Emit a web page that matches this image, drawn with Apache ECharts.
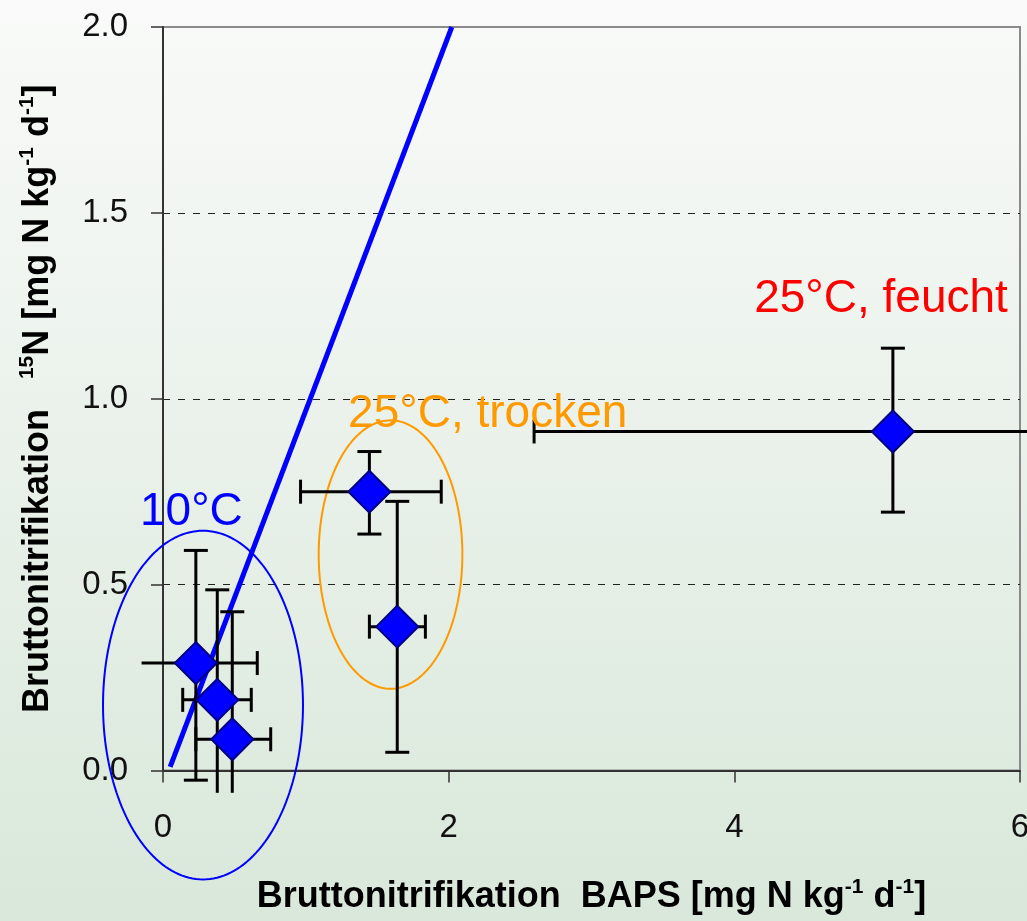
<!DOCTYPE html>
<html>
<head>
<meta charset="utf-8">
<script src="https://cdn.jsdelivr.net/npm/echarts@6/dist/echarts.min.js"></script>
<style>
html,body{margin:0;padding:0;width:1027px;height:921px;overflow:hidden;}
#chart{width:1027px;height:921px;}
</style>
</head>
<body>
<div id="chart"></div>
<script>
// ---- data ----
const pointX   = [0.23, 0.38, 0.485, 1.445, 1.64, 5.11];
const pointY   = [0.289, 0.19, 0.084, 0.75, 0.387, 0.912];
const xErrLow  = [-0.20, 0.138, 0.23, 0.963, 1.445, 2.598];
const xErrHigh = [0.66, 0.618, 0.754, 1.948, 1.837, 6.30];
const yErrLow  = [-0.026, -0.20, -0.20, 0.636, 0.049, 0.695];
const yErrHigh = [0.592, 0.486, 0.427, 0.858, 0.724, 1.136];

const lineX = [0.05, 2.022];
const lineY = [0.01, 2.0];

const groupNames = ['10°C', '25°C, trocken', '25°C, feucht'];
const groupLabelX = [-0.161, 1.296, 4.139];
const groupLabelY = [0.695, 0.958, 1.268];

const ellipseCx = [0.28, 1.593];
const ellipseCy = [0.176, 0.581];
const ellipseRx = [0.70, 0.503];
const ellipseRy = [0.469, 0.361];

const xTicks = [0, 2, 4, 6];
const yTicks = ['0.0', '0.5', '1.0', '1.5', '2.0'];

// ---- display rules ----
const X_CLIP = [-0.15, 6.05];
const Y_CLIP = [-0.06, 2.0];
const groupColors = ['#0000ff', '#ff9900', '#ff0000'];
const FONT = '"Liberation Sans", Arial, sans-serif';

const chart = echarts.init(document.getElementById('chart'), null, {renderer: 'canvas'});

const errData = pointX.map((x, i) => [x, pointY[i], xErrLow[i], xErrHigh[i], yErrLow[i], yErrHigh[i]]);
const ellData = ellipseCx.map((c, i) => [c, ellipseCy[i], ellipseRx[i], ellipseRy[i], i]);
const labelData = groupNames.map((n, i) => [groupLabelX[i], groupLabelY[i], i]);

function errorBarItem(params, api) {
  const x = api.value(0), y = api.value(1);
  const xl = api.value(2), xh = api.value(3), yl = api.value(4), yh = api.value(5);
  const style = {stroke: '#000', lineWidth: 3};
  const cap = 12;
  const ch = [];
  const ylc = Math.max(yl, Y_CLIP[0]), yhc = Math.min(yh, Y_CLIP[1]);
  const a = api.coord([x, ylc]), b = api.coord([x, yhc]);
  ch.push({type: 'line', shape: {x1: a[0], y1: a[1], x2: b[0], y2: b[1]}, style});
  if (yl >= Y_CLIP[0]) ch.push({type: 'line', shape: {x1: a[0] - cap, y1: a[1], x2: a[0] + cap, y2: a[1]}, style});
  if (yh <= Y_CLIP[1]) ch.push({type: 'line', shape: {x1: b[0] - cap, y1: b[1], x2: b[0] + cap, y2: b[1]}, style});
  const xlc = Math.max(xl, X_CLIP[0]), xhc = Math.min(xh, X_CLIP[1]);
  const c = api.coord([xlc, y]), d = api.coord([xhc, y]);
  ch.push({type: 'line', shape: {x1: c[0], y1: c[1], x2: d[0], y2: d[1]}, style});
  if (xl >= X_CLIP[0]) ch.push({type: 'line', shape: {x1: c[0], y1: c[1] - cap, x2: c[0], y2: c[1] + cap}, style});
  if (xh <= X_CLIP[1]) ch.push({type: 'line', shape: {x1: d[0], y1: d[1] - cap, x2: d[0], y2: d[1] + cap}, style});
  return {type: 'group', children: ch};
}

function ellipseItem(params, api) {
  const cx = api.value(0), cy = api.value(1), rx = api.value(2), ry = api.value(3), k = api.value(4);
  const pts = [];
  for (let i = 0; i < 180; i++) {
    const t = i / 180 * Math.PI * 2;
    pts.push(api.coord([cx + rx * Math.cos(t), cy + ry * Math.sin(t)]));
  }
  return {type: 'polygon', shape: {points: pts}, style: {fill: 'none', stroke: groupColors[k], lineWidth: 2}};
}

function labelItem(params, api) {
  const p = api.coord([api.value(0), api.value(1)]);
  const k = api.value(2);
  return {type: 'text', x: p[0], y: p[1], style: {
    text: groupNames[k], fill: groupColors[k], font: '46px ' + FONT,
    align: 'left', verticalAlign: 'middle', textAlign: 'left', textVerticalAlign: 'middle'}};
}

const nameRich = {
  s: {fontSize: 21, fontWeight: 'bold', fontFamily: FONT, color: '#000', verticalAlign: 'top', lineHeight: 42},
  n: {fontSize: 36, fontWeight: 'bold', fontFamily: FONT, color: '#000', lineHeight: 42}
};

const option = {
  backgroundColor: new echarts.graphic.LinearGradient(0, 0, 0, 1, [
    {offset: 0, color: '#f9faf9'},
    {offset: 1, color: '#d9e8da'}
  ]),
  animation: false,
  grid: {left: 163, right: 7, top: 27, bottom: 150.5, show: true, borderColor: '#8a8a8a', borderWidth: 2,
    backgroundColor: 'transparent', containLabel: false, outerBoundsMode: 'none'},
  xAxis: {
    type: 'value', min: 0, max: 6, interval: 2,
    axisLine: {show: true, onZero: false, lineStyle: {color: '#333', width: 2}},
    axisTick: {show: true, inside: false, length: 12, lineStyle: {color: '#333', width: 1.5}},
    axisLabel: {fontSize: 33, fontFamily: FONT, color: '#111', margin: 41, hideOverlap: false,
      formatter: v => xTicks.includes(v) ? String(v) : ''},
    splitLine: {show: false},
    name: '{n|Bruttonitrifikation  BAPS [mg N kg}{s|-1}{n| d}{s|-1}{n|]}',
    nameLocation: 'middle', nameGap: 106,
    nameTextStyle: {rich: nameRich}
  },
  yAxis: {
    type: 'value', min: 0, max: 2, interval: 0.5,
    axisLine: {show: true, onZero: false, lineStyle: {color: '#333', width: 2}},
    axisTick: {show: true, inside: false, length: 12, lineStyle: {color: '#333', width: 1.5}},
    axisLabel: {fontSize: 33, fontFamily: FONT, color: '#111', margin: 35, hideOverlap: false,
      formatter: v => yTicks[Math.round(v / 0.5)]},
    splitLine: {show: true, showMinLine: false, showMaxLine: false, lineStyle: {color: '#222', width: 1, type: [7, 8]}},
    name: '{n|Bruttonitrifikation   }{s|15}{n|N [mg N kg}{s|-1}{n| d}{s|-1}{n|]}',
    nameLocation: 'middle', nameGap: 104, nameRotate: 90,
    nameTextStyle: {rich: nameRich}
  },
  series: [
    {type: 'custom', renderItem: ellipseItem, data: ellData, clip: false, silent: true, z: 1,
      encode: {x: 0, y: 1}},
    {type: 'line', data: lineX.map((x, i) => [x, lineY[i]]), showSymbol: false, symbol: 'none',
      lineStyle: {color: '#0000ff', width: 5}, z: 2, silent: true},
    {type: 'custom', renderItem: errorBarItem, data: errData, clip: false, silent: true, z: 3,
      encode: {x: 0, y: 1}},
    {type: 'scatter', data: pointX.map((x, i) => [x, pointY[i]]), symbol: 'diamond', symbolSize: 42,
      itemStyle: {color: '#0000ff', borderColor: '#000080', borderWidth: 2, opacity: 1}, z: 4, silent: true},
    {type: 'custom', renderItem: labelItem, data: labelData, clip: false, silent: true, z: 5,
      encode: {x: 0, y: 1}}
  ]
};
chart.setOption(option);
</script>
</body>
</html>
